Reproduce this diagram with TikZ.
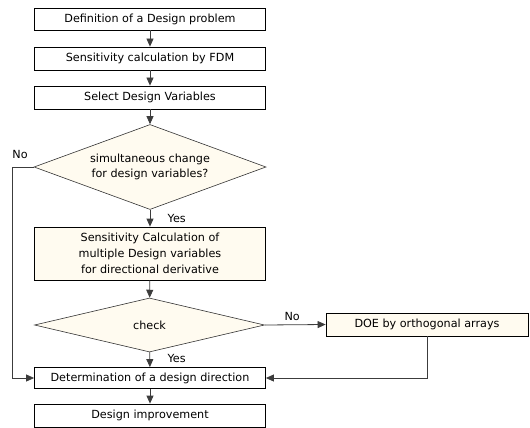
\documentclass[tikz,border=0pt]{standalone}
\usepackage{fontspec}
\setmainfont{DejaVu Sans}
\usepackage{tikz}
\usetikzlibrary{shapes.geometric, arrows.meta, positioning}
\definecolor{Crema}{RGB}{255, 251, 240}
\definecolor{Linea}{RGB}{60, 60, 60}

\begin{document}
\begin{tikzpicture}[x=1pt, y=-1pt,
        paso/.style={draw=black, line width=0.8pt, minimum width=231pt, inner sep=0pt, font=\fontsize{11.2}{16}\selectfont, align=center},
        pasofill/.style={paso, fill=Crema},
        decision/.style={diamond, draw=black!80, line width=0.6pt, fill=Crema, inner sep=0pt, aspect=2.7, font=\fontsize{11.2}{15}\selectfont, align=center},
        flecha/.style={draw=Linea, line width=0.8pt, -{Triangle[length=8pt, width=7pt]}},
        etiqueta/.style={font=\fontsize{11.2}{13}\selectfont}
    ]
        % Marco de la figura (530 x 428 px)
        \useasboundingbox (0,0) rectangle (530,428);

        % Columna principal
        \node[paso, minimum height=22pt] (def) at (150,19) {Definition of a Design problem};
        \node[paso, minimum height=23pt] (sens) at (150,58.5) {Sensitivity calculation by FDM};
        \node[paso, minimum height=23pt] (select) at (150,97.5) {Select Design Variables};
        \node[decision, minimum width=232pt, minimum height=85pt] (simul) at (150,167) {simultaneous change\\for design variables?};
        \node[pasofill, minimum height=53pt] (multi) at (150,253.5) {Sensitivity Calculation of\\multiple Design variables\\for directional derivative};
        \node[decision, minimum width=230pt, minimum height=54pt, aspect=4.2] (check) at (149.5,325) {check};
        \node[paso, minimum height=21pt] (direc) at (150,378) {Determination of a design direction};
        \node[paso, minimum height=23pt] (improve) at (150,415.5) {Design improvement};

        % Rama derecha
        \node[pasofill, minimum width=202pt, minimum height=23pt] (doe) at (427,324.5) {DOE by orthogonal arrays};

        % Flechas verticales
        \draw[flecha] (def) -- (sens);
        \draw[flecha] (sens) -- (select);
        \draw[flecha] (select) -- (simul);
        \draw[flecha] (simul) -- node[etiqueta, right=14pt, pos=0.5] {Yes} (multi);
        \draw[flecha] (multi) -- (check);
        \draw[flecha] (check) -- node[etiqueta, right=14pt, pos=0.45] {Yes} (direc);
        \draw[flecha] (direc) -- (improve);

        % Rama No de la primera decision
        \coordinate (izq) at (12,167);
        \draw[flecha] (simul.west) -- (izq) |- (direc.west);
        \node[etiqueta] (no1) at (20,154) {No};

        % Rama No del check y retorno
        \draw[flecha] (check.east) -- node[etiqueta, above, pos=0.45] {No} (doe.west);
        \draw[flecha] (doe.south) |- (direc.east);
    \end{tikzpicture}
\end{document}
